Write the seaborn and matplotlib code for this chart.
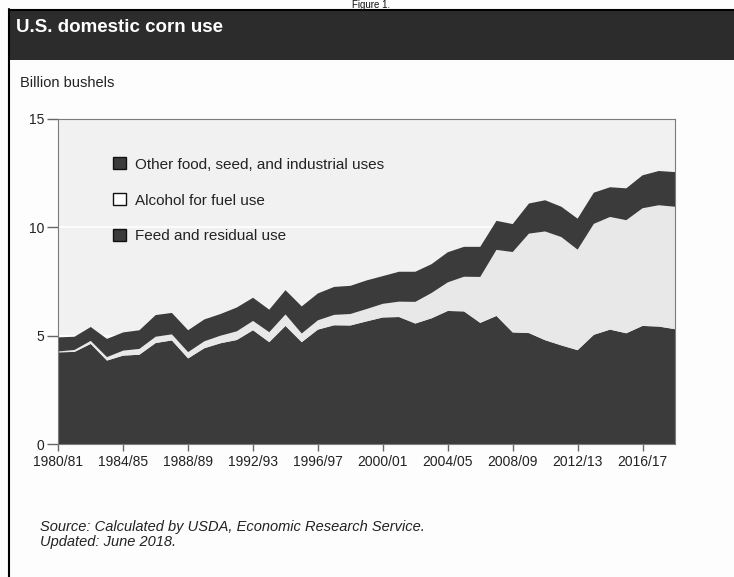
import numpy as np
import pandas as pd
import matplotlib
matplotlib.use("Agg")
import matplotlib.pyplot as plt
import seaborn as sns
from matplotlib.patches import Patch, Rectangle
from matplotlib.lines import Line2D

### data (billion bushels)
years = list(range(1980, 2019))
feed = [4.23, 4.25, 4.62, 3.85, 4.08, 4.12, 4.66, 4.78, 3.95, 4.42,
        4.65, 4.80, 5.25, 4.70, 5.45, 4.70, 5.28, 5.48, 5.47, 5.66,
        5.84, 5.86, 5.56, 5.80, 6.14, 6.12, 5.59, 5.91, 5.15, 5.12,
        4.79, 4.55, 4.33, 5.04, 5.28, 5.11, 5.45, 5.42, 5.30]
fuel = [0.04, 0.09, 0.14, 0.16, 0.23, 0.27, 0.29, 0.28, 0.29, 0.32,
        0.35, 0.40, 0.43, 0.46, 0.53, 0.40, 0.43, 0.48, 0.53, 0.57,
        0.63, 0.71, 1.00, 1.17, 1.32, 1.60, 2.12, 3.05, 3.71, 4.59,
        5.02, 5.00, 4.64, 5.12, 5.20, 5.22, 5.43, 5.60, 5.65]
other = [0.65, 0.61, 0.64, 0.84, 0.84, 0.86, 1.00, 0.99, 1.01, 1.01,
         1.00, 1.10, 1.07, 1.04, 1.12, 1.25, 1.24, 1.29, 1.30, 1.32,
         1.28, 1.38, 1.39, 1.33, 1.39, 1.38, 1.39, 1.34, 1.29, 1.39,
         1.44, 1.40, 1.43, 1.44, 1.37, 1.47, 1.52, 1.58, 1.60]
series_labels = ['Other food, seed, and industrial uses', 'Alcohol for fuel use', 'Feed and residual use']
xtick_years = list(range(1980, 2017, 4))
xtick_labels = ['{}/{:02d}'.format(y, (y + 1) % 100) for y in xtick_years]

df = pd.DataFrame({'year': years, 'feed': feed, 'fuel': fuel, 'other': other})

### style
dark = '#3b3b3b'
light = '#e8e8e8'
sns.set_style('darkgrid', {'axes.facecolor': '#f1f1f1', 'grid.color': 'white',
                           'axes.edgecolor': '#7c7c7c', 'axes.linewidth': 1.0})
plt.rcParams['font.family'] = ['Liberation Sans', 'DejaVu Sans']
W, H = 734, 577

fig = plt.figure(figsize=(W / 100, H / 100), dpi=100, facecolor='#fdfdfd')
ax = fig.add_axes([58.3 / W, 1 - 444 / H, (675 - 58.3) / W, (444 - 119) / H])

ax.stackplot(df['year'], df['feed'], df['fuel'], df['other'],
             colors=[dark, light, dark], edgecolor='none', linewidth=0)

ax.set_xlim(1980, 2018)
ax.set_ylim(0, 15)
ax.set_yticks([0, 5, 10, 15])
ax.set_xticks(xtick_years)
ax.set_xticklabels(xtick_labels)
ax.grid(axis='x', visible=False)
ax.grid(axis='y', color='white', linewidth=1.2)
ax.tick_params(axis='y', left=True, length=8, width=1, color='#666', pad=2,
               labelsize=10, labelcolor='#222')
ax.tick_params(axis='x', bottom=True, length=5, width=1, color='#666', pad=3,
               labelsize=10, labelcolor='#222')

handles = [Patch(facecolor=dark, edgecolor='#111', linewidth=1),
           Patch(facecolor='white', edgecolor='#111', linewidth=1),
           Patch(facecolor=dark, edgecolor='#111', linewidth=1)]
ax.legend(handles, series_labels, loc='upper left', bbox_to_anchor=((113 - 58.3) / 617, 0.882),
          frameon=False, fontsize=11, handlelength=0.82, handleheight=0.82,
          handletextpad=0.6, labelspacing=1.42, borderpad=0, borderaxespad=0,
          labelcolor='#222')

### page decoration
fig.patches.append(Rectangle((9 / W, 1 - 60 / H), 1 - 9 / W, (60 - 9.3) / H,
                             transform=fig.transFigure, facecolor='#2c2c2c',
                             edgecolor='none', zorder=0))
fig.add_artist(Line2D([9 / W, 1], [1 - 9.8 / H] * 2, color='black', lw=1.5,
                      transform=fig.transFigure))
fig.add_artist(Line2D([9 / W] * 2, [0, 1 - 9.3 / H], color='black', lw=1.5,
                      transform=fig.transFigure))

fig.text(0.505, 1 - 0.5 / H, 'Figure 1.', ha='center', va='top', fontsize=7, color='#111')
fig.text(16.5 / W, 1 - 27 / H, 'U.S. domestic corn use', color='white',
         fontweight='bold', fontsize=13.5, va='center')
fig.text(20.5 / W, 1 - 83 / H, 'Billion bushels', fontsize=10.5, va='center', color='#222')
fig.text(40 / W, 1 - 527 / H, 'Source: Calculated by USDA, Economic Research Service.',
         fontsize=10.5, style='italic', va='center', color='#222')
fig.text(40 / W, 1 - 542 / H, 'Updated: June 2018.',
         fontsize=10.5, style='italic', va='center', color='#222')

fig.savefig('out.png', dpi=100, facecolor=fig.get_facecolor())
